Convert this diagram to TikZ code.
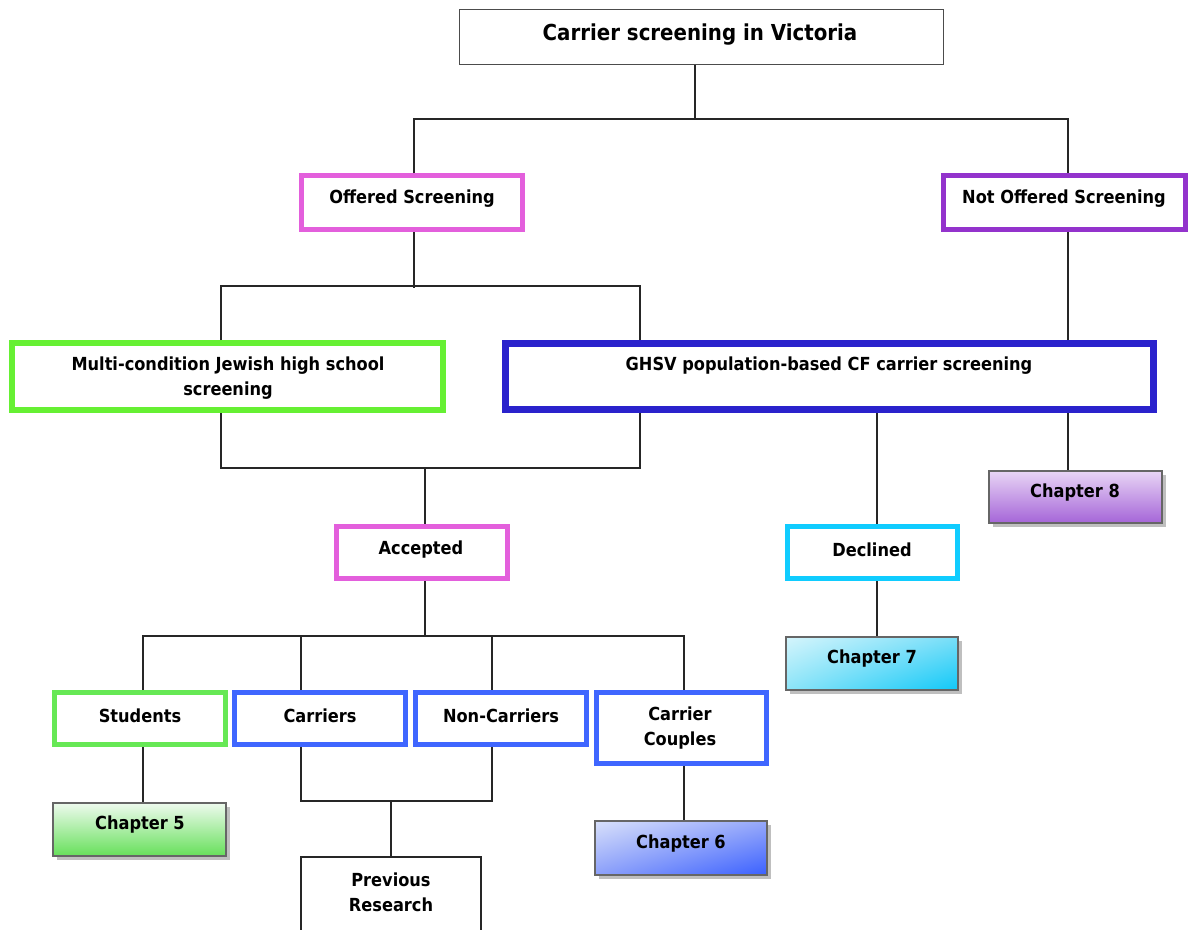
\documentclass[tikz,border=0pt]{standalone}
\usepackage{fontspec}
\setmainfont{DejaVu Sans Condensed}
\usetikzlibrary{shadings,shadows}
\definecolor{cMag}{HTML}{E35FDC}
\definecolor{cPur}{HTML}{9333CC}
\definecolor{cGrn}{HTML}{66F033}
\definecolor{cGrnB}{HTML}{66E855}
\definecolor{cNavy}{HTML}{2A22CC}
\definecolor{cBlue}{HTML}{3F66FF}
\definecolor{cCyan}{HTML}{10CCFF}
\definecolor{cEdge}{HTML}{666666}
\definecolor{pTop}{HTML}{E8D5F5}
\definecolor{pBot}{HTML}{A565D8}
\definecolor{gTop}{HTML}{EEFAEE}
\definecolor{gBot}{HTML}{66E05A}
\definecolor{cyA}{HTML}{D5F5FC}
\definecolor{cyB}{HTML}{78DEF8}
\definecolor{cyC}{HTML}{8CE4F8}
\definecolor{cyD}{HTML}{10C8F8}
\definecolor{blA}{HTML}{D8E0FA}
\definecolor{blB}{HTML}{96A8FA}
\definecolor{blC}{HTML}{8CA0FA}
\definecolor{blD}{HTML}{3A60FF}
\tikzset{
  x=1pt, y=-1pt,
  link/.style={draw=black!85, line width=1.3pt},
  frame/.style={draw=#1, rectangle, inner sep=0pt, fill=white},
  chap/.style={rectangle, inner sep=0pt, draw=cEdge, line width=2pt,
    drop shadow={shadow xshift=4pt, shadow yshift=-4pt, fill=black!25, opacity=1}},
  lbl/.style={font=\fontsize{18}{25}\selectfont\bfseries, align=center, inner sep=0pt, yshift=-2.5pt},
}
\begin{document}
\begin{tikzpicture}
\useasboundingbox (0,0) rectangle (1188,929);
\clip (0,0) rectangle (1188,929);

% boxes
\node[frame=black!70, line width=1pt, minimum width=484pt, minimum height=55pt] (top) at (701,36.5) {};
\node[frame=cMag, line width=5pt, minimum width=221pt, minimum height=54pt] (off) at (412,202.5) {};
\node[frame=cPur, line width=5pt, minimum width=242pt, minimum height=54pt] (nof) at (1064,202.5) {};
\node[frame=cGrn, line width=6pt, minimum width=431pt, minimum height=67pt] (multi) at (227.5,376.5) {};
\node[frame=cNavy, line width=7pt, minimum width=648pt, minimum height=66pt] (ghsv) at (829.5,376.5) {};
\node[frame=cMag, line width=5pt, minimum width=171pt, minimum height=52pt] (acc) at (422,552.5) {};
\node[frame=cCyan, line width=5pt, minimum width=170pt, minimum height=52pt] (decl) at (872.5,552.5) {};
\node[frame=cGrnB, line width=5pt, minimum width=171pt, minimum height=52pt] (stud) at (140,718.5) {};
\node[frame=cBlue, line width=5pt, minimum width=171pt, minimum height=52pt] (carr) at (320,718.5) {};
\node[frame=cBlue, line width=5pt, minimum width=171pt, minimum height=52pt] (nonc) at (501,718.5) {};
\node[frame=cBlue, line width=5pt, minimum width=170pt, minimum height=71pt] (coup) at (681.5,728) {};
\node[frame=black!85, line width=1.5pt, minimum width=180pt, minimum height=83pt] (prev) at (391,898.5) {};

% chapter boxes
\node[chap, minimum width=173pt, minimum height=52pt, top color=pTop, bottom color=pBot] (ch8) at (1075.5,497) {};
\node[chap, minimum width=172pt, minimum height=53pt,
  upper left=cyA, upper right=cyB, lower left=cyC, lower right=cyD] (ch7) at (872,663.5) {};
\node[chap, minimum width=173pt, minimum height=53pt, top color=gTop, bottom color=gBot] (ch5) at (139.5,829.5) {};
\node[chap, minimum width=172pt, minimum height=54pt,
  upper left=blA, upper right=blB, lower left=blC, lower right=blD] (ch6) at (681,848) {};

% connectors
\draw[link] (top.south -| 695,0) -- (695,119);
\draw[link] (off.north -| 414,0) -- (414,119) -- (1068,119) -- (nof.north -| 1068,0);
\draw[link] (off.south -| 414,0) -- (414,288);
\draw[link] (multi.north -| 221,0) -- (221,286) -- (640,286) -- (ghsv.north -| 640,0);
\draw[link] (nof.south -| 1068,0) -- (ghsv.north -| 1068,0);
\draw[link] (multi.south -| 221,0) -- (221,468) -- (640,468) -- (ghsv.south -| 640,0);
\draw[link] (425,468) -- (acc.north -| 425,0);
\draw[link] (ghsv.south -| 877,0) -- (decl.north -| 877,0);
\draw[link] (ghsv.south -| 1068,0) -- (ch8.north -| 1068,0);
\draw[link] (decl.south -| 877,0) -- (ch7.north -| 877,0);
\draw[link] (acc.south -| 425,0) -- (425,636);
\draw[link] (stud.north -| 143,0) -- (143,636) -- (684,636) -- (coup.north -| 684,0);
\draw[link] (301,636) -- (carr.north -| 301,0);
\draw[link] (492,636) -- (nonc.north -| 492,0);
\draw[link] (stud.south -| 143,0) -- (ch5.north -| 143,0);
\draw[link] (carr.south -| 301,0) -- (301,801) -- (492,801) -- (nonc.south -| 492,0);
\draw[link] (391,801) -- (prev.north -| 391,0);
\draw[link] (coup.south -| 684,0) -- (ch6.north -| 684,0);

% labels
\node[lbl, font=\fontsize{22}{26}\selectfont\bfseries] at (700,32) {Carrier screening in Victoria};
\node[lbl] at (412,196) {Offered Screening};
\node[lbl] at (1064,196) {Not Offered Screening};
\node[lbl] at (228,376) {Multi-condition Jewish high school\\screening};
\node[lbl] at (829,363) {GHSV population-based CF carrier screening};
\node[lbl] at (421,547) {Accepted};
\node[lbl] at (872,547) {Declined};
\node[lbl] at (1075,490) {Chapter 8};
\node[lbl] at (872,656) {Chapter 7};
\node[lbl] at (140,713) {Students};
\node[lbl] at (320,713) {Carriers};
\node[lbl] at (501,713) {Non-Carriers};
\node[lbl] at (680,726) {Carrier\\Couples};
\node[lbl] at (140,822) {Chapter 5};
\node[lbl] at (681,841) {Chapter 6};
\node[lbl] at (391,890) {Previous\\Research};
\end{tikzpicture}
\end{document}
